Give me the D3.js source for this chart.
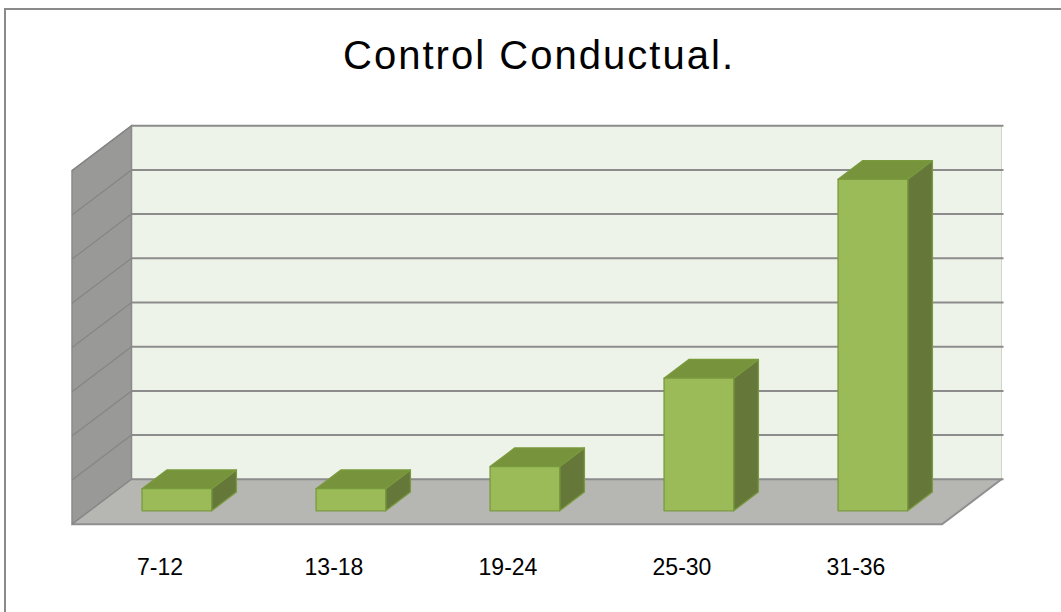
<!DOCTYPE html>
<html>
<head>
<meta charset="utf-8">
<script src="https://cdn.jsdelivr.net/npm/d3@7"></script>
<style>
  html, body { margin: 0; padding: 0; background: #ffffff; }
  svg { display: block; }
</style>
</head>
<body>
<svg id="chart" width="1061" height="612"></svg>
<script>
// ---- data ----
const title = "Control Conductual.";
const categories = ["7-12", "13-18", "19-24", "25-30", "31-36"];
const values = [1, 1, 2, 6, 15];
const yTicks = [0, 2, 4, 6, 8, 10, 12, 14, 16];

// ---- layout ----
const svg = d3.select("#chart");
const frontLeft = 72, frontRight = 942;
const floorFrontY = 524.3;
const depthDX = 59.5, depthDY = -45;
const barD0 = 0.3, barD1 = 0.716;

const x = d3.scaleBand().domain(categories).range([frontLeft, frontRight]).paddingInner(0).paddingOuter(0);
const y = d3.scaleLinear().domain([0, 16]).range([floorFrontY, floorFrontY - 8 * 44.2]);

const P = (px, py, d) => [px + d * depthDX, py + d * depthDY];
const poly = pts => "M" + pts.map(p => p.join(",")).join("L") + "Z";

// outer border
svg.append("rect").attr("x", 5).attr("y", 9).attr("width", 1200).attr("height", 800)
  .attr("fill", "#fff").attr("stroke", "#8a8a8a").attr("stroke-width", 2);

// title
svg.append("text").attr("x", 538).attr("y", 69).attr("text-anchor", "middle")
  .attr("font-family", "Liberation Sans, Arial, sans-serif").attr("font-size", 40)
  .attr("textLength", 390).attr("lengthAdjust", "spacing")
  .attr("fill", "#000").text(title);

const y0 = y(0), yTop = y(16);
// back wall
svg.append("path").attr("d", poly([P(frontLeft, yTop, 1), P(frontRight, yTop, 1), P(frontRight, y0, 1), P(frontLeft, y0, 1)]))
  .attr("fill", "#eef3e9").attr("stroke", "#d0d4cc").attr("stroke-width", 1);
// side wall
svg.append("path").attr("d", poly([[frontLeft, yTop], P(frontLeft, yTop, 1), P(frontLeft, y0, 1), [frontLeft, y0]]))
  .attr("fill", "#999a97").attr("stroke", "#8a8a8a").attr("stroke-width", 1.5);
// floor
svg.append("path").attr("d", poly([[frontLeft, y0], P(frontLeft, y0, 1), P(frontRight, y0, 1), [frontRight, y0]]))
  .attr("fill", "#b6b7b3").attr("stroke", "none");
svg.append("path").attr("d", "M" + [P(frontLeft, y0, 0), [frontRight, y0], P(frontRight, y0, 1)].map(p => p.join(",")).join("L"))
  .attr("fill", "none").attr("stroke", "#8f8f8f").attr("stroke-width", 2);

// gridlines
const grid = svg.append("g");
yTicks.forEach(t => {
  const a = P(frontLeft, y(t), 1), b = P(frontRight, y(t), 1);
  grid.append("line").attr("x1", a[0]).attr("y1", a[1]).attr("x2", b[0] + 2).attr("y2", b[1])
    .attr("stroke", "#8c8c8c").attr("stroke-width", 2);
  grid.append("line").attr("x1", frontLeft).attr("y1", y(t)).attr("x2", a[0]).attr("y2", a[1])
    .attr("stroke", "#858585").attr("stroke-width", 1.2);
});

// bars
const bw = x.bandwidth() * 0.4;
const bars = svg.append("g");
categories.forEach((c, i) => {
  const xc = x(c) + x.bandwidth() / 2;
  const xl = xc - bw / 2, xr = xc + bw / 2;
  const yb = y(0), yt = y(values[i]);
  const fTL = P(xl, yt, barD0), fTR = P(xr, yt, barD0), fBR = P(xr, yb, barD0), fBL = P(xl, yb, barD0);
  const bTL = P(xl, yt, barD1), bTR = P(xr, yt, barD1), bBR = P(xr, yb, barD1);
  const g = bars.append("g").attr("stroke", "#7a9a3e").attr("stroke-width", 1.3).attr("stroke-linejoin", "round");
  g.append("path").attr("d", poly([fTR, bTR, bBR, fBR])).attr("fill", "#667839");
  g.append("path").attr("d", poly([fTL, bTL, bTR, fTR])).attr("fill", "#77933c");
  g.append("path").attr("d", poly([fTL, fTR, fBR, fBL])).attr("fill", "#9bbb59");
});

// category labels
svg.append("g").selectAll("text").data(categories).join("text")
  .attr("x", d => x(d) + x.bandwidth() / 2 + 1)
  .attr("y", 575)
  .attr("text-anchor", "middle")
  .attr("font-family", "Liberation Sans, Arial, sans-serif").attr("font-size", 23)
  .attr("fill", "#000").text(d => d);
</script>
</body>
</html>
